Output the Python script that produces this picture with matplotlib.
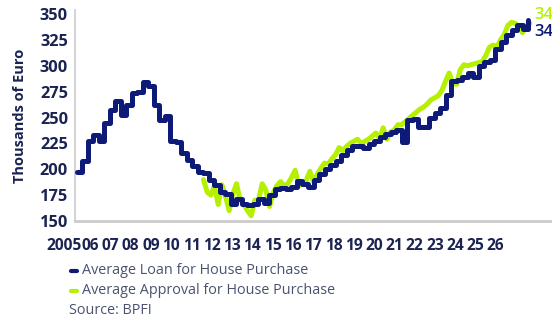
import matplotlib.pyplot as plt
import numpy as np
from matplotlib import transforms

# Average loan for house purchase, quarterly from 2005 Q1 (thousands of euro)
loan_start = 2005.0
loan = [
    197, 208, 227, 233, 227, 245, 257, 266, 252, 262, 274, 275, 284, 280, 262, 248,
    251, 227, 226, 216, 209, 203, 197, 196, 190, 185, 178, 176, 166, 171, 166, 165,
    166, 171, 167, 175, 181, 182, 181, 183, 189, 186, 183, 190, 195, 200, 204, 208,
    214, 219, 222, 222, 221, 224, 227, 231, 234, 236, 238, 226, 248, 249, 241, 241,
    250, 254, 259, 272, 285, 286, 289, 293, 289, 300, 304, 306, 316, 323, 330, 335,
    339, 336, 344,
]

# Average approval for house purchase, every two months from late 2010
approval_start = 2010.75
approval = [
    190, 178, 175, 184, 166, 185, 174, 160, 176, 186, 170, 166, 160, 155, 170, 170,
    186, 180, 164, 177, 184, 188, 184, 186, 192, 199, 184, 186, 189, 198, 188, 195,
    201, 206, 205, 210, 214, 221, 218, 222, 225, 227, 229, 225, 227, 229, 232, 235,
    230, 240, 229, 236, 238, 243, 243, 246, 249, 252, 255, 258, 260, 263, 267, 269,
    271, 276, 285, 293, 283, 282, 296, 301, 300, 301, 302, 303, 304, 310, 318, 320,
    318, 325, 330, 339, 342, 341, 338, 332, 338, 341,
]

year_labels = ["2005"] + [f"{y:02d}" for y in range(6, 27)]
# end labels, shown cut at the chart edge in the original
loan_end_label = "34"
approval_end_label = "34"

navy = "#0d1a78"
lime = "#b4f000"
text_col = "#1b2352"
legend_col = "#4a5270"

plt.rcParams["font.family"] = ["Open Sans", "DejaVu Sans"]

fig = plt.figure(figsize=(5.52, 3.2), dpi=100)
ax = fig.add_axes([75 / 552, 1 - 221 / 320, 1 - 75 / 552, 211 / 320])

x_loan = loan_start + np.arange(len(loan)) / 4
x_appr = approval_start + np.arange(len(approval)) / 6

ax.plot(x_appr, approval, color=lime, lw=3.6, solid_joinstyle="round",
        solid_capstyle="round", zorder=2)
ax.plot(x_loan, loan, color=navy, lw=3.6, drawstyle="steps-post",
        solid_joinstyle="round", solid_capstyle="round", zorder=3)

ax.set_xlim(2004.91, 2026.59)
ax.set_ylim(150, 353.9)
ax.set_yticks([150, 175, 200, 225, 250, 275, 300, 325, 350])
ax.tick_params(axis="y", length=0, pad=5, labelsize=11.8, labelcolor=text_col)
for lab in ax.get_yticklabels():
    lab.set_fontweight("bold")
ax.set_xticks([])

for s in ["top", "right"]:
    ax.spines[s].set_visible(False)
ax.spines["left"].set_color("#d0d0d0")
ax.spines["left"].set_linewidth(1.3)
ax.spines["bottom"].set_color("#cccccc")
ax.spines["bottom"].set_linewidth(2.0)

# year labels sit on their own even spacing under the axis
label_pos = [2004.40] + list(2005.60 + 0.9214 * np.arange(21))
trans = transforms.blended_transform_factory(ax.transData, ax.transAxes)
for pos, lab in zip(label_pos, year_labels):
    ax.text(pos, -0.118, lab, transform=trans, ha="center", va="center",
            fontsize=11.2, fontweight="bold", color=text_col, clip_on=False)

ax.set_ylabel("Thousands of Euro", fontsize=10.5, fontweight="bold",
              color=text_col, labelpad=9)

# end value labels
fig.text(534 / 552, 1 - 15 / 320, approval_end_label, color=lime, fontsize=12,
         fontweight="semibold", va="center", ha="left")
fig.text(534 / 552, 1 - 32 / 320, loan_end_label, color=navy, fontsize=12,
         fontweight="semibold", va="center", ha="left")

# legend and source
for yy, col, lab in [(271, navy, "Average Loan for House Purchase"),
                     (291, lime, "Average Approval for House Purchase")]:
    fig.add_artist(plt.Line2D([70.5 / 552, 77 / 552], [1 - yy / 320, 1 - yy / 320],
                              color=col, lw=3, solid_capstyle="round"))
    fig.text(82 / 552, 1 - yy / 320, lab, color=legend_col, fontsize=10.4,
             va="center", ha="left")
fig.text(69 / 552, 1 - 310 / 320, "Source: BPFI", color=legend_col, fontsize=10.4,
         va="center", ha="left")

fig.savefig("out.png", dpi=100)
